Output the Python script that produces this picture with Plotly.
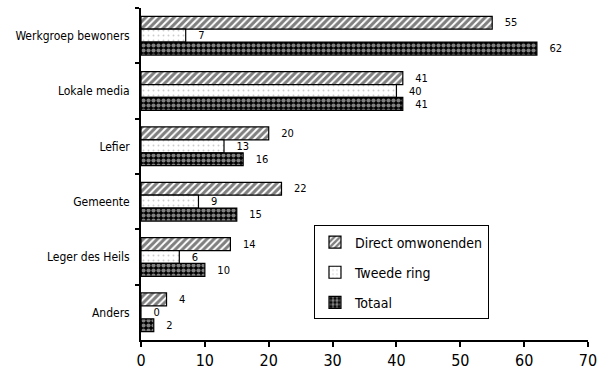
import plotly.graph_objects as go

categories = ["Werkgroep bewoners", "Lokale media", "Lefier", "Gemeente", "Leger des Heils", "Anders"]
direct = [55, 41, 20, 22, 14, 4]
tweede = [7, 40, 13, 9, 6, 0]
totaal = [62, 41, 16, 15, 10, 2]
x_ticks = [0, 10, 20, 30, 40, 50, 60, 70]

FONT = "DejaVu Sans Condensed, DejaVu Sans, sans-serif"

series = [
    ("Direct omwonenden", direct,
     dict(shape="/", fgcolor="black", bgcolor="white", size=5, solidity=0.6)),
    ("Tweede ring", tweede,
     dict(shape=".", fgcolor="#9a9a9a", bgcolor="white", size=5, solidity=0.12)),
    ("Totaal", totaal,
     dict(shape=".", fgcolor="white", bgcolor="black", size=5, solidity=0.55)),
]

fig = go.Figure()
for i, (name, vals, pat) in enumerate(series):
    fig.add_trace(go.Bar(
        y=categories, x=vals, name=name, orientation="h",
        marker=dict(color="white", pattern=pat, line=dict(color="black", width=1.2)),
        text=["   " + str(v) for v in vals], textposition="outside",
        textfont=dict(family=FONT, size=12, color="black"),
        cliponaxis=False, legendgroup=f"g{i}",
    ))

fig.update_layout(
    width=605, height=378,
    margin=dict(l=141, r=14, t=8, b=31),
    paper_bgcolor="white", plot_bgcolor="white",
    barmode="group", bargap=0.3, bargroupgap=0,
    font=dict(family=FONT, size=12, color="black"),
    showlegend=True,
    legend=dict(
        x=0.387, y=0.345, xanchor="left", yanchor="top",
        bordercolor="black", borderwidth=1, bgcolor="white",
        font=dict(family=FONT, size=14, color="black"),
        tracegroupgap=9, itemwidth=30, entrywidth=135,
    ),
)
fig.update_xaxes(
    range=[0, 70], tickvals=x_ticks, ticktext=[str(t) for t in x_ticks],
    showgrid=False, zeroline=False,
    showline=True, linecolor="black", linewidth=2,
    ticks="outside", ticklen=5, tickcolor="black", tickwidth=1.5,
    tickfont=dict(family=FONT, size=16, color="black"),
)
fig.update_yaxes(
    autorange="reversed", showgrid=False, zeroline=False,
    showline=True, linecolor="black", linewidth=2,
    ticks="outside", ticklen=4, tickcolor="black", tickwidth=1.5, tickson="boundaries",
    tickfont=dict(family=FONT, size=12, color="black"),
    ticksuffix="  ",
)

fig.write_html("out.html")
